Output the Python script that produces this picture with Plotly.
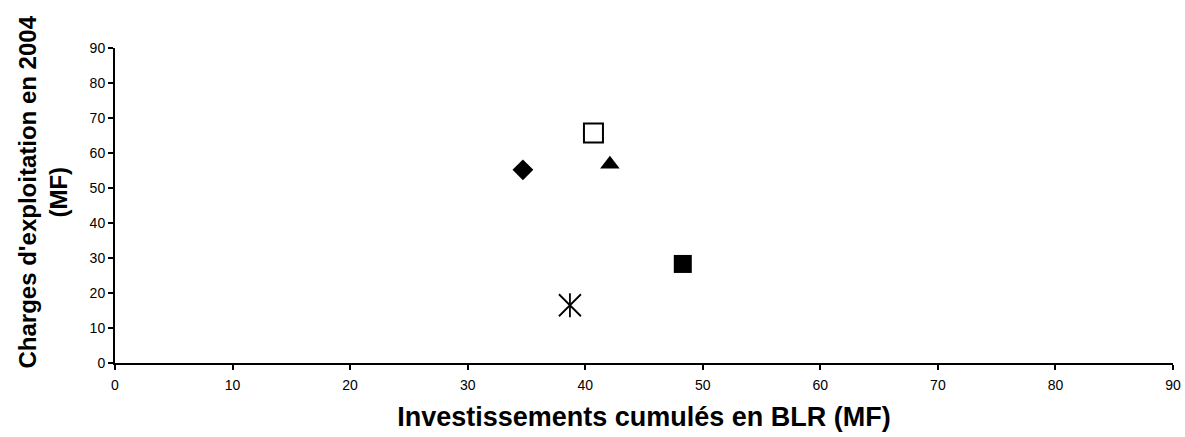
import plotly.graph_objects as go

# Data
investissements = [34.7, 40.7, 42.1, 48.3, 38.7]       # x: Investissements cumulés en BLR (MF)
charges = [55.2, 65.7, 56.8, 28.3, 16.5]               # y: Charges d'exploitation en 2004 (MF)
point_names = ["A", "B", "C", "D", "E"]

x_ticks = [0, 10, 20, 30, 40, 50, 60, 70, 80, 90]
y_ticks = [0, 10, 20, 30, 40, 50, 60, 70, 80, 90]

x_title = "Investissements cumulés en BLR (MF)"
y_title = "Charges d'exploitation en 2004<br>(MF)"

FONT = "Liberation Sans, Arial, sans-serif"

fig = go.Figure()

# Filled diamond
fig.add_trace(go.Scatter(x=[investissements[0]], y=[charges[0]], mode="markers",
                         name=point_names[0],
                         marker=dict(symbol="diamond", size=16, color="black",
                                     line=dict(width=0))))
# Open square
fig.add_trace(go.Scatter(x=[investissements[1]], y=[charges[1]], mode="markers",
                         name=point_names[1],
                         marker=dict(symbol="square", size=19, color="white",
                                     line=dict(width=2, color="black"))))
# Filled triangle
fig.add_trace(go.Scatter(x=[investissements[2]], y=[charges[2]], mode="markers",
                         name=point_names[2],
                         marker=dict(symbol="triangle-up", size=17, color="black",
                                     line=dict(width=0))))
# Filled square
fig.add_trace(go.Scatter(x=[investissements[3]], y=[charges[3]], mode="markers",
                         name=point_names[3],
                         marker=dict(symbol="square", size=18, color="black",
                                     line=dict(width=0))))
# Star (X + vertical bar)
fig.add_trace(go.Scatter(x=[investissements[4]], y=[charges[4]], mode="markers",
                         name=point_names[4],
                         marker=dict(symbol="x-thin-open", size=22, color="black",
                                     line=dict(width=1.8, color="black"))))
fig.add_trace(go.Scatter(x=[investissements[4]], y=[charges[4]], mode="markers",
                         name=point_names[4], showlegend=False,
                         marker=dict(symbol="line-ns-open", size=17, color="black",
                                     line=dict(width=1.8, color="black"))))

axis_common = dict(
    showgrid=False, zeroline=False, showline=True, linecolor="black", linewidth=2,
    ticks="outside", ticklen=5, tickwidth=2, tickcolor="black",
    tickfont=dict(family=FONT, size=14, color="black"),
    automargin=False,
)

fig.update_layout(
    width=1185, height=437,
    margin=dict(l=115, r=12, t=48, b=74),
    paper_bgcolor="white", plot_bgcolor="white",
    showlegend=False,
    font=dict(family=FONT, color="black"),
    xaxis=dict(range=[0, 90], tickvals=x_ticks, ticklabelstandoff=3, **axis_common,
               title=dict(text=x_title,
                          font=dict(family=FONT, size=27, color="black", weight="bold"),
                          standoff=15)),
    yaxis=dict(range=[0, 90], tickvals=y_ticks, **axis_common),
    annotations=[dict(
        text=y_title, textangle=-90, showarrow=False,
        xref="paper", yref="paper", x=0, y=0.5,
        xanchor="center", yanchor="middle", xshift=-73, yshift=13,
        font=dict(family=FONT, size=24, color="black", weight="bold"),
    )],
)

# Remove the default 8px page margin so the 1185x437 figure fills the window exactly
fig.write_html("out.html",
               config={"displayModeBar": False},
               post_script="document.body.style.margin='0';document.body.style.overflow='hidden';")
